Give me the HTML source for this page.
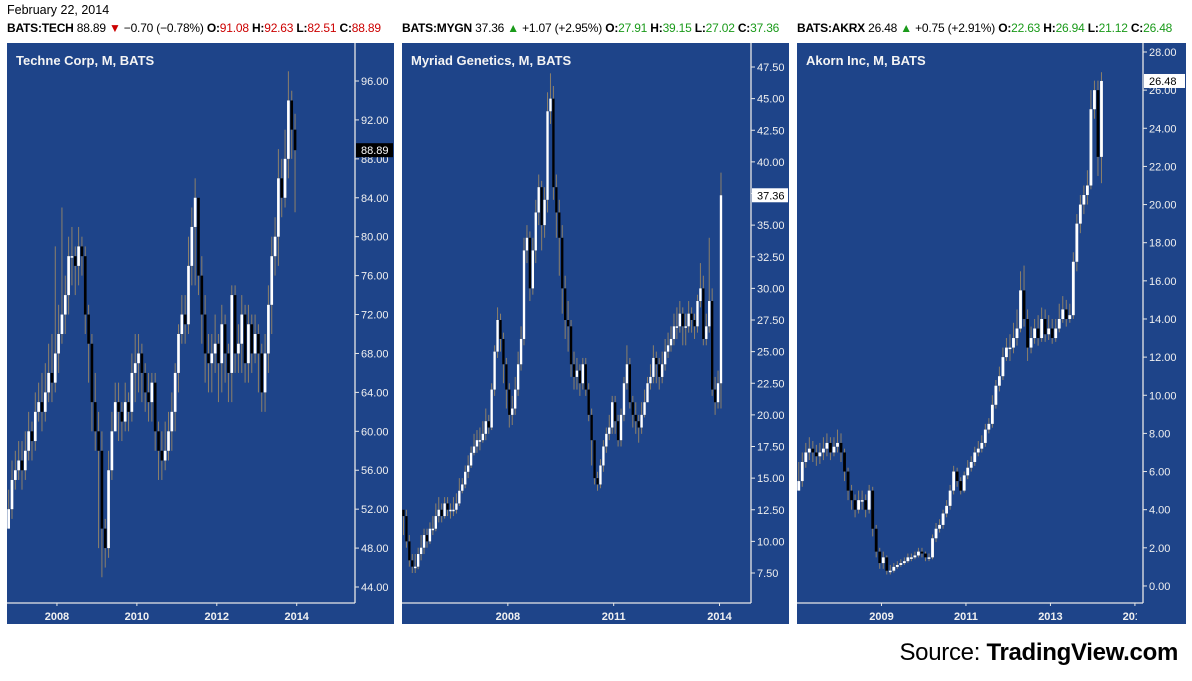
<!DOCTYPE html>
<html><head><meta charset="utf-8"><style>
body{margin:0;width:1192px;height:681px;background:#fff;font-family:"Liberation Sans",sans-serif;position:relative;overflow:hidden}
#hdr1{position:absolute;left:7px;top:3px;font-size:12.5px;color:#000}
#hdr2{position:absolute;left:7px;top:21px;font-size:12px;letter-spacing:-0.2px;color:#000;white-space:nowrap;width:1185px;overflow:hidden}
.q{display:inline-block;overflow:hidden;white-space:nowrap;vertical-align:top}
b{font-weight:bold}.r{color:#c00}.g{color:#1a9a1a}
#src{position:absolute;right:14px;top:639px;font-size:24px;letter-spacing:-0.3px;color:#000}
svg{position:absolute;left:0;top:0}
</style></head><body>
<div id="hdr1">February 22, 2014</div>
<div id="hdr2"><span class="q" style="width:395px"><b>BATS:TECH</b> 88.89 <span class="r">▼</span> −0.70 (−0.78%) <b>O:</b><span class="r">91.08</span> <b>H:</b><span class="r">92.63</span> <b>L:</b><span class="r">82.51</span> <b>C:</b><span class="r">88.89</span></span><span class="q" style="width:395px"><b>BATS:MYGN</b> 37.36 <span class="g">▲</span> +1.07 (+2.95%) <b>O:</b><span class="g">27.91</span> <b>H:</b><span class="g">39.15</span> <b>L:</b><span class="g">27.02</span> <b>C:</b><span class="g">37.36</span></span><span class="q" style="width:390px"><b>BATS:AKRX</b> 26.48 <span class="g">▲</span> +0.75 (+2.91%) <b>O:</b><span class="g">22.63</span> <b>H:</b><span class="g">26.94</span> <b>L:</b><span class="g">21.12</span> <b>C:</b><span class="g">26.48</span></span></div>
<div id="src">Source: <b>TradingView.com</b></div>
<svg id="chart" width="1192" height="681"></svg>
<script>
// TECH
const techClose=[52,55,56,57,56,58,60,59,62,63,62,64,66,65,68,
70,72,74,78,78,77,79,78,72,69,63,60,
58,50,48,56,60,63,62,61,63,62,66,67,
68,66,64,63,65,60,58,57,58,60,62,66,
70,72,71,77,81,84,76,72,68,67,68,69,
67,71,68,66,74,68,69,72,67,71,68,70,
68,64,68,73,78,80,86,84,88,94,91,88.89];
const techHigh=[54,57,58,59,59,60,62,61,64,65,66,67,69,70,79,
73,83,76,80,81,79,81,80,79,73,70,66,
62,60,51,58,62,65,65,63,65,64,68,70,
70,69,67,66,66,66,61,60,61,62,64,67,
71,74,74,80,83,86,84,78,74,70,70,72,
70,73,72,69,75,75,71,74,73,73,72,72,
71,69,70,75,80,82,89,88,91,97,95,92.63];
const techLow=[50,51,54,55,54,55,57,57,58,61,60,61,63,63,64,
66,69,70,72,75,74,75,76,70,65,60,58,
48,45,46,47,55,60,59,59,60,60,61,63,
64,63,62,61,61,58,55,55,56,57,58,60,
64,69,69,70,75,75,74,69,65,64,64,66,
63,64,65,63,63,66,66,66,65,65,66,67,
64,62,62,66,70,76,77,82,83,86,88,82.51];
const techTicks=[44,48,52,56,60,64,68,72,76,80,84,88,92,96];
const techYears=[2008,2010,2012,2014];
// MYGN
const mygnClose=[12,10,8.5,8,8,9,9.5,10.5,10,11,11,12,
12.5,12,13,12.5,12.5,12.5,13,14,14.5,15.5,16,17,
17.5,18,18,18.5,19.5,19,22,25,27.5,26,24,22,
20,20.5,22,24,26,33,34,30,33,36,38,35,
37,44,45,38,36,34,30,27.5,27,24,23,23.5,
22.5,24,22,20,18,15,14.5,16,17.5,18.5,19,21,
19.5,18,20,22.5,24,21,20,19.5,19,20,21,22.5,
23,24.5,24,23,24,25,25.5,26,27,27,28,27,
27,28,27.5,27,29,30,26,27,29,22,21,22.5,37.36];
const mygnHigh=[12.5,12.5,10.5,9,9,9.5,10.5,11,11,11.5,12,13,
13.5,13,13.5,13.5,13,13.5,13.8,15,15,16,16.8,17.5,
18.5,18.8,19,19.5,20.5,20,22.5,25.5,28.5,28,26.5,24.5,
22.5,21.5,23,25,27,34,35,34.5,34,37,39,38.5,
38,45.5,47,46,39,37,35,31,29,27.5,25,24.5,
24,24.5,24.5,22.5,20.5,18,15.5,16.5,18,19,20,21.5,
21.5,20,20.5,23,25.5,24.5,21.5,21,20,21,22,23,
24,25.5,25,24.5,25,26,26.5,27,28,28.5,29,28.5,
28,29,28.5,28,29.5,32,31,28,34,30,23,23.5,39.15];
const mygnLow=[10.5,9.5,8,7.5,7.5,7.8,8.5,9,9.5,9.8,10.5,10.8,
11.5,11.5,11.8,12,11.8,12,12.2,12.8,13.8,14.2,15,15.8,
16.8,17,17.2,17.8,18,18.5,18.8,21.5,24.5,25,22.5,20.5,
19,19.2,20,21.5,23.5,25.5,32,29,29.5,32,35,33,
34,36,43,37,34,31,28,26,25,23,22,22,
21.5,22,21.5,19.5,16,14.5,14,14.2,15.5,17,18,18.5,
18.5,17.5,17.5,19.5,22,20.5,19,18.5,17.8,18.5,19.8,21,
22,22.5,22.5,22,22.5,23.5,24.5,25,25.5,26,26.5,25.5,
25.5,26.5,26.5,26,26.5,28.5,25.5,25.5,26.5,21.5,20,20.5,20.5];
const mygnTicks=[7.5,10,12.5,15,17.5,20,22.5,25,27.5,30,32.5,35,37.5,40,42.5,45,47.5];
const mygnYears=[2008,2011,2014];
// AKRX
const akrxClose=[5.5,6.5,7,7.2,7,6.8,7,7.2,7.5,7,7.3,7.5,
7,6,5,4.5,4,4.5,4.5,4,5,3,1.8,1.2,
1.5,0.8,0.8,1,1.1,1.2,1.3,1.5,1.5,1.6,1.8,1.7,
1.5,1.5,2.5,3,3.2,3.8,4.2,5,6,5.5,5,5.8,
6.2,6.5,7,7.2,7.5,8.2,8.5,9.5,10.5,11,12,12.5,
12.5,13,13.5,15.5,14,12.5,13,13.5,13,14,13.2,13.5,
13,13.5,14,14.5,14,14.2,17,19,20,20.5,21,25,
26,22.5,26.48];
const akrxHigh=[6.5,7,7.5,7.8,7.6,7.4,7.5,7.8,8,7.8,7.8,8.2,
8,7.2,6.2,5.3,4.8,5,5,4.8,5.3,5.2,3.2,2,
1.8,1.6,1.1,1.2,1.3,1.4,1.5,1.7,1.7,1.8,2,2,
1.8,1.7,2.7,3.3,3.5,4,4.5,5.3,6.3,6.2,5.7,6,
6.6,6.8,7.3,7.6,7.9,8.5,8.8,10,10.8,11.5,12.5,13,
13.2,13.8,14.5,16.5,16.8,14.5,13.6,14,14.2,14.6,14.5,14.2,
14,14,14.8,15.2,15,14.8,17.5,19.5,20.5,21,21.8,26,
26.5,26.5,26.94];
const akrxLow=[5,5.2,6.2,6.6,6.5,6.3,6.4,6.6,6.8,6.6,6.8,7,
6.5,5.5,4.5,4,3.6,3.8,4,3.6,3.8,2.6,1.5,0.9,
0.9,0.6,0.6,0.7,0.9,1,1.1,1.2,1.3,1.4,1.5,1.5,
1.3,1.3,1.4,2.3,2.8,3,3.6,4,4.8,5.2,4.8,4.9,
5.6,6,6.3,6.8,7,7.3,8,8.3,9.3,10.2,10.8,11.8,
11.8,12.2,12.6,13.3,13.6,11.8,12.2,12.7,12.6,12.8,12.8,12.9,
12.7,12.8,13.3,13.8,13.6,13.8,14,16.5,18.5,19.5,20,20.8,
24.5,21.5,21.12];
const akrxTicks=[0,2,4,6,8,10,12,14,16,18,20,22,24,26,28];
const akrxYears=[2009,2011,2013,2015];

const NS='http://www.w3.org/2000/svg';
const svg=document.getElementById('chart');
function mk(tag,attrs,parent){const e=document.createElementNS(NS,tag);for(const k in attrs)e.setAttribute(k,attrs[k]);(parent||svg).appendChild(e);return e;}

const panels=[
 {id:'tech',title:'Techne Corp, M, BATS',left:7,right:394,axisX:355,close:techClose,high:techHigh,low:techLow,ticks:techTicks,years:techYears,
  startYear:2006,startMonth:9,step:3.33,pTop:96,yTop:81,ppu:9.731,firstOpen:50,lastBox:'black'},
 {id:'mygn',title:'Myriad Genetics, M, BATS',left:402,right:789,axisX:751,close:mygnClose,high:mygnHigh,low:mygnLow,ticks:mygnTicks,years:mygnYears,
  startYear:2005,startMonth:0,step:2.94,pTop:47.5,yTop:67,ppu:12.65,firstOpen:12.5,lastBox:'white'},
 {id:'akrx',title:'Akorn Inc, M, BATS',left:797,right:1186,axisX:1143,close:akrxClose,high:akrxHigh,low:akrxLow,ticks:akrxTicks,years:akrxYears,
  startYear:2007,startMonth:0,step:3.52,pTop:28,yTop:52,ppu:19.07,firstOpen:5,lastBox:'white'}
];
const TOP=43,PB=603,BOT=624;
panels.forEach(p=>{
  const y=v=>p.yTop+(p.pTop-v)*p.ppu;
  const x=i=>p.left+p.step*(i+0.5);
  const g=mk('g',{});
  
  
  const bg=mk('rect',{x:p.left,y:TOP,width:p.right-p.left,height:BOT-TOP,fill:'#1e4489'},g);
  
  
  const cp=mk('clipPath',{id:'cp-'+p.id},g);
  mk('rect',{x:p.left,y:TOP,width:p.axisX-p.left,height:PB-TOP},cp);
  const bars=mk('g',{'clip-path':'url(#cp-'+p.id+')'},g);
  const bw=Math.max(2,p.step*0.8);
  p.close.forEach((c,i)=>{
    const o=i===0?p.firstOpen:p.close[i-1];
    const w=mk('line',{x1:x(i),x2:x(i),y1:y(p.high[i]),y2:y(p.low[i]),stroke:'#8c806a','stroke-width':1},bars);
    
    
    const t=y(Math.max(o,c)),b=y(Math.min(o,c));
    const r=mk('rect',{x:x(i)-bw/2,y:t,width:bw,height:Math.max(1.5,b-t),fill:c>=o?'#ffffff':'#000000'},bars);
    
    
  });
  mk('line',{x1:p.axisX,x2:p.axisX,y1:TOP,y2:PB,stroke:'#e8e8e8','stroke-width':1.3},g);
  mk('line',{x1:p.left,x2:p.axisX,y1:PB,y2:PB,stroke:'#e8e8e8','stroke-width':1.3},g);
  p.ticks.forEach(v=>{
    const yy=y(v);
    mk('line',{x1:p.axisX,x2:p.axisX+4,y1:yy,y2:yy,stroke:'#e8e8e8'},g);
    const t=mk('text',{x:p.axisX+6,y:yy+4,fill:'#f0f0f0','font-size':11,'font-family':'Liberation Sans, sans-serif'},g);
    t.textContent=v.toFixed(2);
    
    
  });
  const cpx=mk('clipPath',{id:'cpx-'+p.id},g);
  mk('rect',{x:p.left,y:PB,width:p.axisX-p.left-6,height:BOT-PB},cpx);
  const xl=mk('g',{'clip-path':'url(#cpx-'+p.id+')'},g);
  p.years.forEach(yr=>{
    const idx=(yr-p.startYear)*12-p.startMonth;
    const xx=p.left+p.step*idx;
    mk('line',{x1:xx,x2:xx,y1:PB,y2:PB+3,stroke:'#e8e8e8'},g);
    const t=mk('text',{x:xx,y:620,fill:'#f0f0f0','font-size':11,'font-weight':'bold','text-anchor':'middle','font-family':'Liberation Sans, sans-serif'},xl);
    t.textContent=yr;
    
    
  });
  const tt=mk('text',{x:p.left+9,y:65,fill:'#f4f4f4','font-size':13,'font-weight':'bold','font-family':'Liberation Sans, sans-serif'},g);
  tt.textContent=p.title;
  
  
  const last=p.close[p.close.length-1], ly=y(last);
  const lb=mk('rect',{x:p.axisX+1,y:ly-7,width:p.right-p.axisX-2,height:14,fill:p.lastBox},g);
  
  
  const lt=mk('text',{x:p.axisX+6,y:ly+4,fill:p.lastBox==='black'?'#fff':'#000','font-size':11,'font-family':'Liberation Sans, sans-serif'},g);
  lt.textContent=last.toFixed(2);
  
  
});
</script>
</body></html>
